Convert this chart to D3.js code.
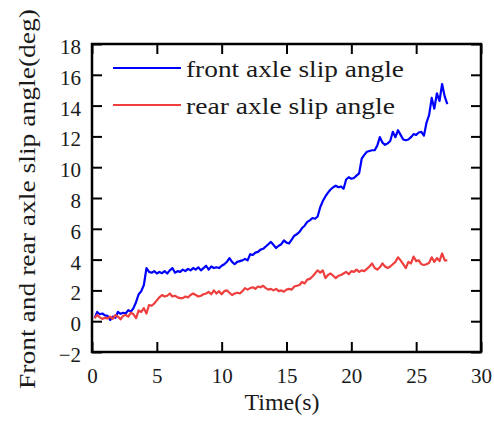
<!DOCTYPE html>
<html>
<head>
<meta charset="utf-8">
<script src="https://cdn.jsdelivr.net/npm/d3@7"></script>
<style>
  html, body { margin: 0; padding: 0; background: #fff; }
  svg { display: block; }
  text { font-family: "Liberation Serif", "DejaVu Serif", serif; fill: #1a1a1a; }
</style>
</head>
<body>
<svg id="chart" width="494" height="421"></svg>
<script>
// ---- data ----
const time = [
  0.2,0.4,0.6,0.8,1.0,1.2,1.4,1.6,1.8,2.0,2.2,2.4,2.6,2.8,3.0,3.2,3.4,3.6,3.8,4.0,
  4.2,4.4,4.6,4.8,5.0,5.2,5.4,5.6,5.8,6.0,6.2,6.4,6.6,6.8,7.0,7.2,7.4,7.6,7.8,8.0,
  8.2,8.4,8.6,8.8,9.0,9.2,9.4,9.6,9.8,10.0,10.2,10.4,10.6,10.8,11.0,11.2,11.4,11.6,11.8,12.0,
  12.2,12.4,12.6,12.8,13.0,13.2,13.4,13.6,13.8,14.0,14.2,14.4,14.6,14.8,15.0,15.2,15.4,15.6,15.8,16.0,
  16.2,16.4,16.6,16.8,17.0,17.2,17.4,17.6,17.8,18.0,18.2,18.4,18.6,18.8,19.0,19.2,19.4,19.6,19.8,20.0,
  20.2,20.4,20.6,20.8,21.0,21.2,21.4,21.6,21.8,22.0,22.2,22.4,22.6,22.8,23.0,23.2,23.4,23.6,23.8,24.0,
  24.2,24.4,24.6,24.8,25.0,25.2,25.4,25.6,25.8,26.0,26.2,26.4,26.6,26.8,27.0,27.2,27.4
];
const frontSlip = [
  0.20,0.60,0.45,0.50,0.38,0.35,0.08,0.30,0.22,0.60,0.48,0.55,0.50,0.72,0.62,0.85,1.25,1.75,1.95,2.35,
  3.45,3.20,3.15,3.25,3.10,3.20,3.12,3.25,3.10,3.30,3.45,3.15,3.25,3.20,3.35,3.25,3.40,3.30,3.45,3.35,
  3.50,3.30,3.45,3.60,3.35,3.55,3.45,3.50,3.45,3.60,3.70,3.85,4.10,3.85,3.70,3.85,3.90,3.95,4.05,3.95,
  4.35,4.30,4.45,4.50,4.65,4.70,4.85,5.00,5.15,4.95,4.75,4.90,5.00,5.25,5.10,5.05,5.30,5.55,5.65,5.80,
  6.05,6.20,6.45,6.55,6.70,6.65,6.80,7.40,7.80,8.10,8.35,8.55,8.70,8.80,8.70,8.75,8.60,9.20,9.35,9.25,
  9.30,9.45,9.60,10.55,10.80,11.00,11.05,11.10,11.10,11.40,11.95,11.60,11.45,11.55,11.70,12.30,11.95,12.40,12.10,11.80,
  11.75,11.80,11.95,12.15,12.10,12.25,12.30,12.05,12.90,13.40,14.50,13.80,14.80,14.30,15.40,14.60,14.10
];
const rearSlip = [
  0.20,0.40,0.25,0.15,0.22,0.18,0.30,0.15,0.40,0.30,0.12,0.35,0.40,0.30,0.55,0.45,0.20,0.70,0.60,0.85,
  0.50,1.05,1.00,1.15,1.35,1.55,1.70,1.60,1.65,1.80,1.60,1.65,1.55,1.50,1.50,1.60,1.55,1.70,1.80,1.70,
  1.60,1.65,1.75,1.80,1.90,1.75,2.00,1.80,1.95,1.75,1.95,2.00,1.85,1.70,1.80,1.85,1.80,1.95,2.15,2.05,
  2.15,2.20,2.10,2.25,2.20,2.30,2.15,2.05,2.10,2.00,2.10,1.95,2.00,1.92,2.05,2.10,2.05,2.25,2.30,2.35,
  2.55,2.45,2.70,2.75,2.90,3.10,3.30,3.15,3.30,2.80,3.00,3.10,2.95,2.80,2.95,3.00,3.10,3.20,3.05,3.25,
  3.20,3.35,3.20,3.30,3.25,3.40,3.55,3.75,3.45,3.35,3.50,3.75,3.55,3.45,3.55,3.70,3.85,4.15,3.95,3.70,
  3.45,3.85,3.75,4.20,3.90,3.95,3.70,3.65,3.70,3.80,4.15,3.85,4.10,3.90,4.40,3.95,3.95
];
const xTicks = [0, 5, 10, 15, 20, 25, 30];
const yTicks = [-2, 0, 2, 4, 6, 8, 10, 12, 14, 16, 18];
const seriesNames = ["front axle slip angle", "rear axle slip angle"];
const seriesColors = ["#0000ff", "#ef3e3e"];

// ---- layout ----
const svg = d3.select("#chart");
const L = 92, R = 481, T = 44, B = 352;
const x = d3.scaleLinear().domain([0, 30]).range([L, R]);
const y = d3.scaleLinear().domain([-2, 18]).range([B, T]);
const tickLen = 10;

// data lines
const series = [frontSlip, rearSlip];
const line = d3.line().x((d, i) => x(time[i])).y(d => y(d));
series.forEach((s, k) => {
  svg.append("path")
    .datum(s)
    .attr("fill", "none")
    .attr("stroke", seriesColors[k])
    .attr("stroke-width", 2.2)
    .attr("stroke-linejoin", "round")
    .attr("d", line);
});

// axes (inward ticks on all sides)
const axStyle = g => {
  g.select(".domain").remove();
  g.selectAll(".tick line").attr("stroke", "#000").attr("stroke-width", 2);
  g.selectAll(".tick text").style("font-family", '"Liberation Serif", serif').style("font-size", "21px").attr("fill", "#222");
};
const fmt = d => (d < 0 ? "\u2212" + Math.abs(d) : String(d));

svg.append("g").attr("transform", `translate(0,${B})`)
  .call(d3.axisBottom(x).tickValues(xTicks).tickSize(-tickLen).tickPadding(20).tickFormat(fmt))
  .call(axStyle)
  .call(g => g.selectAll(".tick text").attr("dy", "0.72em").attr("y", 16));

svg.append("g").attr("transform", `translate(0,${T})`)
  .call(d3.axisTop(x).tickValues(xTicks).tickSize(-tickLen).tickFormat(""))
  .call(axStyle);

svg.append("g").attr("transform", `translate(${L},0)`)
  .call(d3.axisLeft(y).tickValues(yTicks).tickSize(-tickLen).tickPadding(11).tickFormat(fmt))
  .call(axStyle)
  .call(g => g.selectAll(".tick text").attr("dy", "0.45em"));

svg.append("g").attr("transform", `translate(${R},0)`)
  .call(d3.axisRight(y).tickValues(yTicks).tickSize(-tickLen).tickFormat(""))
  .call(axStyle);

// frame
svg.append("rect")
  .attr("x", L).attr("y", T).attr("width", R - L).attr("height", B - T)
  .attr("fill", "none").attr("stroke", "#000").attr("stroke-width", 2.5);

// axis titles
svg.append("text")
  .attr("x", 282).attr("y", 410)
  .attr("text-anchor", "middle")
  .attr("textLength", 75).attr("lengthAdjust", "spacingAndGlyphs")
  .style("font-size", "23px")
  .text("Time(s)");

svg.append("text")
  .attr("transform", "translate(35,199) rotate(-90)")
  .attr("text-anchor", "middle")
  .attr("textLength", 380).attr("lengthAdjust", "spacingAndGlyphs")
  .style("font-size", "24px")
  .text("Front and rear axle slip angle(deg)");

// legend
const legY = [68, 105];
seriesNames.forEach((name, k) => {
  svg.append("line")
    .attr("x1", 113).attr("x2", 181)
    .attr("y1", legY[k]).attr("y2", legY[k])
    .attr("stroke", seriesColors[k]).attr("stroke-width", 2);
  svg.append("text")
    .attr("x", 186).attr("y", legY[k] + 9)
    .attr("textLength", k === 0 ? 218 : 209).attr("lengthAdjust", "spacingAndGlyphs")
    .style("font-size", "24px")
    .text(name);
});
</script>
</body>
</html>
